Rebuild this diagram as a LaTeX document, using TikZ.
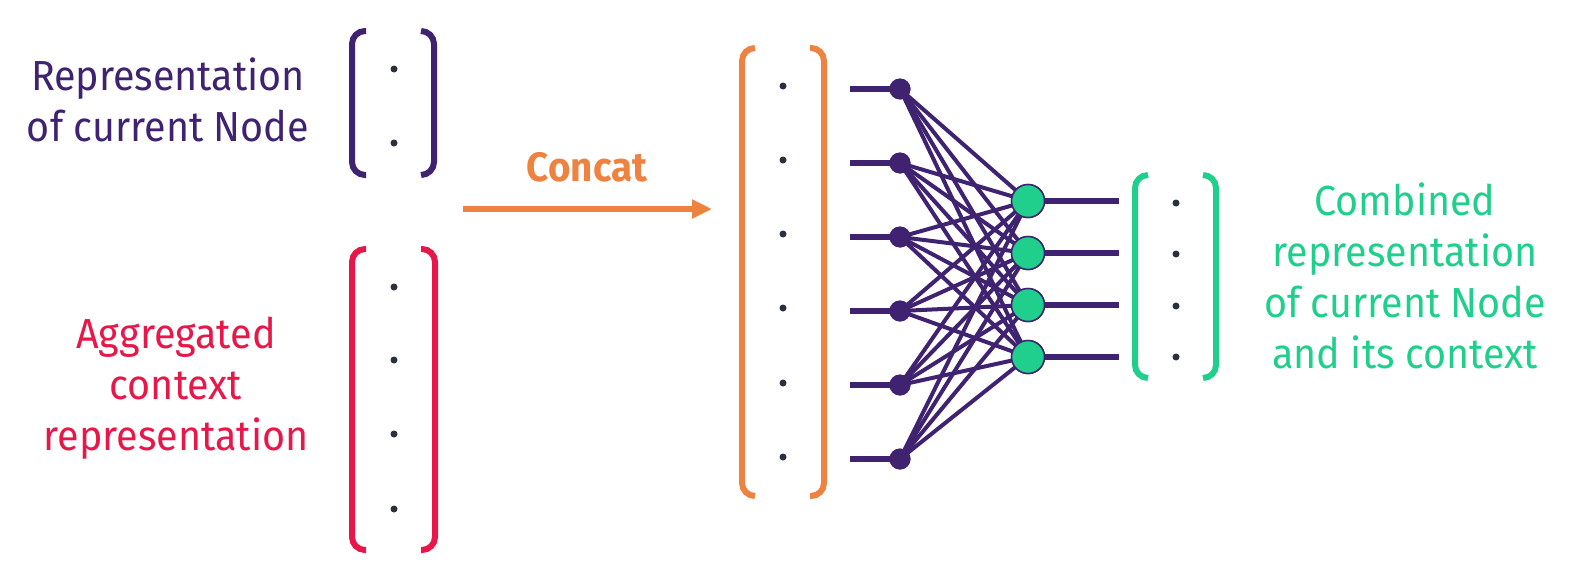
\documentclass[tikz,border=0pt]{standalone}
\usepackage{fontspec}
\setmainfont[FakeStretch=0.94]{Fira Sans}
\usetikzlibrary{arrows.meta}
\definecolor{cpurple}{HTML}{3F2270}
\definecolor{cred}{HTML}{E8174A}
\definecolor{corange}{HTML}{EE8240}
\definecolor{cgreen}{HTML}{1FCF8B}
\definecolor{cdot}{HTML}{2B3040}
\tikzset{
  brk/.style={line width=6pt, rounded corners=13pt},
  vdot/.style={circle, fill=cdot, inner sep=0pt, minimum size=7pt},
  innode/.style={circle, fill=cpurple, inner sep=0pt, minimum size=21pt},
  outnode/.style={circle, fill=cgreen, draw=cpurple, line width=1.5pt, inner sep=0pt, minimum size=33pt},
  stub/.style={draw=cpurple, line width=6pt},
  wire/.style={draw=cpurple, line width=4pt},
  lbl/.style={align=center, font=\fontsize{42}{51}\selectfont, inner sep=0pt},
}
\begin{document}
\begin{tikzpicture}[x=1pt,y=-1pt]
\useasboundingbox (0,0) rectangle (1581,573);
% purple bracket
\draw[brk, cpurple] (366,31) -- (352,31) -- (352,175) -- (366,175);
\draw[brk, cpurple] (421,31) -- (434,31) -- (434,175) -- (421,175);
\node[vdot] (p1) at (394,69) {};
\node[vdot] (p2) at (394,143) {};
% red bracket
\draw[brk, cred] (366,249) -- (352,249) -- (352,550) -- (366,550);
\draw[brk, cred] (421,249) -- (435,249) -- (435,550) -- (421,550);
\foreach \i/\y in {1/287,2/360,3/434,4/509} \node[vdot] (r\i) at (394,\y) {};
% orange bracket
\draw[brk, corange] (755,48) -- (742,48) -- (742,496) -- (755,496);
\draw[brk, corange] (810,48) -- (824,48) -- (824,496) -- (810,496);
\foreach \i/\y in {1/86,2/160,3/234,4/308,5/383,6/457} \node[vdot] (o\i) at (783,\y) {};
% green bracket
\draw[brk, cgreen] (1148,175) -- (1135,175) -- (1135,378) -- (1148,378);
\draw[brk, cgreen] (1203,175) -- (1216,175) -- (1216,378) -- (1203,378);
\foreach \i/\y in {1/203,2/254,3/306,4/357} \node[vdot] (g\i) at (1176,\y) {};
% concat arrow
\coordinate (as) at (463,209);
\coordinate (ae) at (712,209);
\draw[corange, line width=6pt, -{Triangle[length=20pt,width=18pt]}] (as) -- (ae);
\node[font=\fontsize{41}{48}\selectfont\bfseries, text=corange, inner sep=0pt] (concat) at (587,167) {Concat};
% input nodes
\foreach \i/\y in {1/89,2/163,3/237,4/311,5/385,6/459} {
  \coordinate (s\i) at (850,\y);
  \node[innode] (n\i) at (900,\y) {};
}
% output nodes
\foreach \j/\y in {1/201,2/253,3/305,4/357} {
  \coordinate (t\j) at (1119,\y);
  \node[outnode] (m\j) at (1028,\y) {};
}
\foreach \i in {1,...,6} \draw[stub] (s\i) -- (n\i.center);
\foreach \j in {1,...,4} \draw[stub] (m\j.center) -- (t\j);
\foreach \i in {1,...,6} \foreach \j in {1,...,4} \draw[wire] (n\i.center) -- (m\j.center);
\foreach \i/\y in {1/89,2/163,3/237,4/311,5/385,6/459} \node[innode] at (900,\y) {};
\foreach \j/\y in {1/201,2/253,3/305,4/357} \node[outnode] at (1028,\y) {};
% labels
\node[lbl, text=cpurple] (lp) at (168,100) {Representation\\of current Node};
\node[lbl, text=cred] (lr) at (176,388) {Aggregated\\context\\representation};
\node[lbl, text=cgreen] (lg) at (1405,276) {Combined\\representation\\of current Node\\and its context};
\end{tikzpicture}
\end{document}
